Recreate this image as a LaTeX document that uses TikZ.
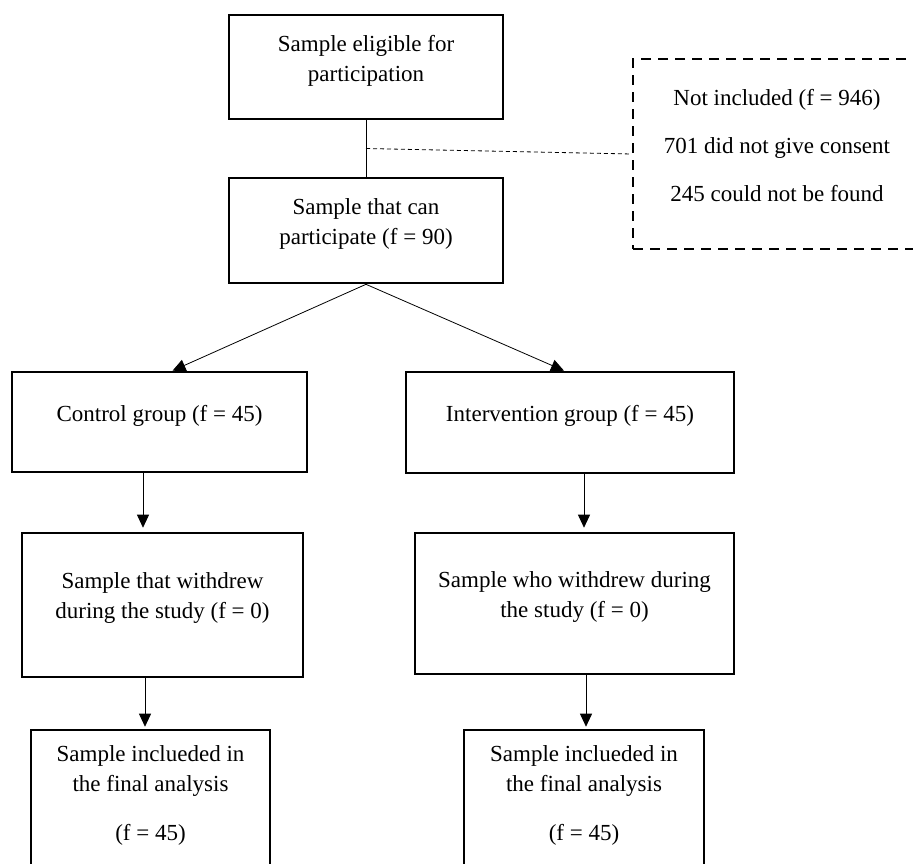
\documentclass[tikz,border=0pt]{standalone}
\usepackage{fontspec}
\setmainfont{Liberation Serif}
\usetikzlibrary{arrows.meta,calc}

\begin{document}
\begin{tikzpicture}[x=1pt, y=-1pt,
    box/.style={draw, line width=2.6pt, rectangle, align=center, inner sep=0pt,
      text depth=18pt, font=\fontsize{23}{30}\selectfont},
    dbox/.style={box, line width=2.2pt, dash pattern=on 10pt off 7pt,
      text depth=17pt, font=\fontsize{23}{48}\selectfont},
    link/.style={line width=0.8pt},
    arr/.style={line width=0.8pt, -{Triangle[length=13pt, width=12pt]}}]

      \useasboundingbox (0, 0) rectangle (913, 863);
      \clip (0, 0) rectangle (913, 863);

      \node[box, minimum width=274pt, minimum height=104pt] (elig) at (366, 67)
        {Sample eligible for\\participation};
      \node[box, minimum width=274pt, minimum height=105pt] (part) at (366, 230.5)
        {Sample that can\\participate (f = 90)};
      \node[dbox, minimum width=288pt, minimum height=190pt] (notinc) at (777, 154)
        {Not included (f = 946)\\701 did not give consent\\245 could not be found};

      \node[box, minimum width=295pt, minimum height=100pt] (ctrl) at (159.5, 422)
        {Control group (f = 45)};
      \node[box, minimum width=328pt, minimum height=101pt] (intv) at (570, 422.5)
        {Intervention group (f = 45)};

      \node[box, minimum width=281pt, minimum height=144pt] (wdl) at (162.5, 605)
        {Sample that withdrew\\during the study (f = 0)};
      \node[box, minimum width=319pt, minimum height=141pt] (wdr) at (574.5, 603.5)
        {Sample who withdrew during\\the study (f = 0)};

      \node[box, text depth=33pt, minimum width=239pt, minimum height=160pt] (finl) at (150.5, 810)
        {Sample inclueded in\\the final analysis\\[19pt](f = 45)};
      \node[box, text depth=33pt, minimum width=240pt, minimum height=160pt] (finr) at (584, 810)
        {Sample inclueded in\\the final analysis\\[19pt](f = 45)};

      \coordinate (split) at ($(elig.south)!0.5!(part.north)$);
      \draw [link] (elig) -- (part);
      \draw [line width=0.8pt, dash pattern=on 4pt off 3pt] (split) -- (notinc.west);

      \draw [arr] (part.south) -- ([xshift=13pt]ctrl.north);
      \draw [arr] (part.south) -- ([xshift=-6pt]intv.north);

      \draw [arr, shorten >=4pt] ([xshift=-16.5pt]ctrl.south) -- ([xshift=-16.5pt]ctrl.south |- wdl.north);
      \draw [arr, shorten >=4pt] ([xshift=14pt]intv.south)    -- ([xshift=14pt]intv.south |- wdr.north);
      \draw [arr, shorten >=2pt] ([xshift=-17.5pt]wdl.south)  -- ([xshift=-17.5pt]wdl.south |- finl.north);
      \draw [arr, shorten >=2pt] ([xshift=11.5pt]wdr.south)   -- ([xshift=11.5pt]wdr.south |- finr.north);
    \end{tikzpicture}
\end{document}
